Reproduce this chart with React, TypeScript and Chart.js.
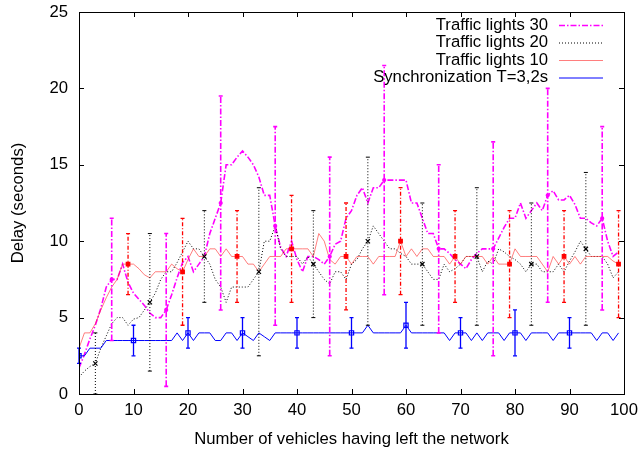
import React, { useEffect, useRef } from 'react';
import { Chart, registerables } from 'chart.js';
Chart.register(...registerables);

// ---- data (index = number of vehicles having left the network) ----
const tl30: number[] = [
  1.7, 2.6, 3.6, 4.5, 5.6, 7.0, 7.5, 7.5, 8.5, 7.3,
  6.6, 6.2, 5.8, 5.3, 5.0, 5.0, 5.5, 6.5, 7.6, 8.6,
  9.0, 8.0, 8.5, 9.0, 10.5, 11.5, 12.5, 15.0, 15.0, 15.5,
  15.9, 15.5, 15.0, 14.2, 13.0, 13.0, 11.0, 9.6, 9.0, 10.0,
  8.8, 8.0, 9.0, 9.0, 8.8, 8.5, 9.0, 9.8, 10.0, 11.5,
  12.0, 13.0, 13.5, 12.5, 13.5, 13.5, 14.0, 14.0, 14.0, 14.0,
  14.0, 12.5, 12.5, 11.5, 10.5, 10.5, 9.5, 9.5, 9.2, 8.8,
  8.5, 8.2, 8.8, 9.2, 9.5, 9.5, 9.5, 10.2, 10.9, 11.5,
  11.5, 12.5, 11.5, 12.0, 12.5, 12.0, 13.0, 13.3, 12.7, 12.7,
  13.0, 12.4, 11.5, 11.5, 11.2, 11.0, 11.5, 10.0, 9.0, 9.3,
];
const tl20: number[] = [
  1.1, 1.5, 1.8, 2.0, 3.0, 3.8, 4.6, 5.0, 5.0, 4.5,
  4.9, 5.0, 5.5, 6.0, 6.6, 7.5, 8.0, 8.0, 8.6, 9.3,
  10.0, 9.5, 9.5, 9.0, 8.5, 7.5, 7.0, 6.0, 7.0, 7.0,
  7.0, 7.0, 7.5, 8.0, 10.0, 10.0, 11.0, 9.5, 9.0, 9.0,
  9.0, 8.5, 9.0, 8.5, 8.0, 7.5, 7.2, 8.0, 8.0, 7.5,
  8.5, 8.8, 9.5, 10.0, 11.0, 10.5, 10.0, 9.5, 9.5, 9.2,
  9.0, 8.5, 8.5, 8.5, 8.0, 7.5, 7.5, 8.5, 8.0, 8.2,
  8.5, 9.0, 9.0, 9.0, 8.0, 8.7, 8.5, 9.5, 9.3, 9.0,
  8.8, 8.5, 8.0, 8.5, 8.5, 8.0, 8.0, 8.0, 8.5, 8.0,
  8.7, 9.3, 10.0, 9.5, 9.0, 9.0, 9.0, 8.5, 7.6, 8.0,
];
const tl10: number[] = [
  3.0, 4.0, 4.0, 4.6, 5.5, 6.3, 7.0, 7.5, 8.5, 8.5,
  8.5, 8.2, 7.8, 7.6, 8.0, 8.0, 8.0, 8.5, 8.2, 8.0,
  8.8, 9.5, 9.0, 9.0, 9.5, 9.5, 9.0, 9.5, 9.0, 9.0,
  9.0, 8.5, 8.5, 8.0, 8.5, 9.0, 9.0, 9.0, 9.5, 9.5,
  9.5, 9.5, 9.5, 9.0, 10.5, 10.0, 8.8, 8.5, 9.0, 9.0,
  8.5, 9.0, 9.0, 9.0, 8.5, 9.0, 9.0, 9.0, 9.0, 10.0,
  9.0, 9.5, 9.0, 9.5, 9.5, 9.0, 9.0, 9.0, 8.5, 9.0,
  8.5, 9.0, 9.0, 9.0, 9.0, 8.5, 9.0, 8.5, 8.5, 8.5,
  9.5, 9.0, 9.0, 9.0, 9.0, 8.5, 8.0, 9.0, 8.5, 9.0,
  8.5, 9.0, 8.5, 9.0, 9.0, 9.0, 9.0, 9.0, 8.7, 8.5,
];
const sync: number[] = [
  2.5, 2.5, 3.0, 3.0, 3.0, 3.5, 3.5, 3.5, 3.5, 3.5,
  3.5, 3.5, 3.5, 3.5, 3.5, 3.5, 3.5, 3.5, 4.0, 3.5,
  4.0, 3.5, 4.0, 4.0, 4.0, 3.5, 3.5, 4.0, 4.0, 3.5,
  4.0, 3.75, 3.5, 4.0, 3.75, 3.5, 4.0, 4.0, 4.0, 4.0,
  4.0, 4.0, 4.0, 4.0, 4.0, 4.0, 4.0, 4.0, 4.0, 4.0,
  4.0, 4.0, 4.0, 4.5, 4.0, 4.0, 4.0, 4.0, 4.0, 4.0,
  4.5, 4.0, 4.0, 4.0, 4.0, 4.0, 4.0, 4.0, 3.5, 4.0,
  4.0, 4.0, 3.5, 4.0, 3.5, 4.0, 4.0, 4.0, 3.5, 4.0,
  4.0, 4.0, 3.5, 4.0, 4.0, 4.0, 4.0, 3.5, 4.0, 4.0,
  4.0, 4.0, 4.0, 4.0, 4.0, 3.5, 4.0, 4.0, 3.5, 4.0,
];

// error bars
const err30X = [6, 16, 26, 36, 46, 56, 66, 76, 86, 96];
const err30Lo = [3.5, 0.5, 5.5, 4.5, 2.5, 6.5, 4.0, 2.5, 6.0, 5.5];
const err30Hi = [11.5, 10.5, 19.5, 17.5, 15.5, 21.5, 15.0, 16.5, 20.0, 17.5];
const err20X = [3, 13, 23, 33, 43, 53, 63, 73, 83, 93];
const err20Lo = [0.0, 1.5, 6.0, 2.5, 5.0, 4.5, 4.5, 4.5, 4.5, 4.5];
const err20Hi = [4.0, 10.5, 12.0, 13.5, 12.0, 15.5, 12.5, 13.5, 12.5, 14.5];
const err10X = [9, 19, 29, 39, 49, 59, 69, 79, 89, 99];
const err10Lo = [6.5, 4.5, 6.0, 6.0, 5.5, 6.5, 6.0, 5.0, 6.0, 5.0];
const err10Hi = [10.5, 11.5, 12.0, 13.0, 12.5, 13.5, 12.0, 12.0, 12.0, 12.0];
const errSyncX = [0, 10, 20, 30, 40, 50, 60, 70, 80, 90];
const errSyncLo = [2.0, 2.5, 3.0, 3.0, 3.0, 3.0, 3.0, 3.0, 2.5, 3.0];
const errSyncHi = [3.0, 4.5, 5.0, 5.0, 5.0, 5.0, 6.0, 5.0, 5.5, 5.0];

const xTicks = [0, 10, 20, 30, 40, 50, 60, 70, 80, 90, 100];
const yTicks = [0, 5, 10, 15, 20, 25];
const seriesNames = ['Traffic lights 30', 'Traffic lights 20', 'Traffic lights 10', 'Synchronization T=3,2s'];
const xTitle = 'Number of vehicles having left the network';
const yTitle = 'Delay (seconds)';

const FONT = '"Liberation Sans", Arial, Helvetica, sans-serif';
const FS = 16.7;

const styles = [
  { line: '#ff00ff', width: 1.6, dash: [6, 2, 1.5, 2], bar: '#ff00ff', barW: 1.6, barDash: [6, 2, 1.5, 2], point: 'circle', pr: 1.5, fill: true },
  { line: '#000000', width: 1, dash: [1, 2], bar: '#000000', barW: 1, barDash: [1, 2], point: 'crossRot', pr: 3, fill: false },
  { line: 'rgba(255,40,40,0.6)', width: 1, dash: [], bar: '#ff0000', barW: 1.3, barDash: [4, 2, 1, 2], point: 'rect', pr: 2.5, fill: true },
  { line: '#0000ff', width: 1, dash: [], bar: '#0000ff', barW: 1.3, barDash: [], point: 'rect', pr: 3, fill: false },
];

const lines = [tl30, tl20, tl10, sync];
const errs = [
  { xs: err30X, lo: err30Lo, hi: err30Hi },
  { xs: err20X, lo: err20Lo, hi: err20Hi },
  { xs: err10X, lo: err10Lo, hi: err10Hi },
  { xs: errSyncX, lo: errSyncLo, hi: errSyncHi },
];

const framePlugin = {
  id: 'frame',
  afterDatasetsDraw(chart: any) {
    const { ctx, scales } = chart;
    const x = scales.x, y = scales.y;
    errs.forEach((e, si) => {
      const st = styles[si];
      ctx.save();
      ctx.strokeStyle = st.bar;
      ctx.lineWidth = st.barW;
      e.xs.forEach((xv: number, k: number) => {
        const px = x.getPixelForValue(xv);
        const lo = y.getPixelForValue(e.lo[k]);
        const hi = y.getPixelForValue(e.hi[k]);
        ctx.setLineDash(st.barDash);
        ctx.beginPath();
        ctx.moveTo(px, lo);
        ctx.lineTo(px, hi);
        ctx.stroke();
        ctx.setLineDash([]);
        ctx.beginPath();
        ctx.moveTo(px - 2, lo); ctx.lineTo(px + 2, lo);
        ctx.moveTo(px - 2, hi); ctx.lineTo(px + 2, hi);
        ctx.stroke();
      });
      ctx.restore();
    });
  },
  afterDraw(chart: any) {
    const { ctx, chartArea: a, scales } = chart;
    const x = scales.x, y = scales.y;
    ctx.save();
    ctx.strokeStyle = '#000';
    ctx.lineWidth = 1;
    ctx.setLineDash([]);
    ctx.strokeRect(Math.round(a.left) + 0.5, Math.round(a.top) + 0.5, Math.round(a.right - a.left), Math.round(a.bottom - a.top));
    ctx.beginPath();
    xTicks.forEach((v) => {
      const px = Math.round(x.getPixelForValue(v)) + 0.5;
      ctx.moveTo(px, a.bottom); ctx.lineTo(px, a.bottom - 5);
      ctx.moveTo(px, a.top); ctx.lineTo(px, a.top + 5);
    });
    yTicks.forEach((v) => {
      const py = Math.round(y.getPixelForValue(v)) + 0.5;
      ctx.moveTo(a.left, py); ctx.lineTo(a.left + 5, py);
      ctx.moveTo(a.right, py); ctx.lineTo(a.right - 5, py);
    });
    ctx.stroke();
    // key
    ctx.font = FS + 'px ' + FONT;
    ctx.fillStyle = '#000';
    ctx.textAlign = 'right';
    ctx.textBaseline = 'middle';
    seriesNames.forEach((name, i) => {
      const ty = 25 + i * 17.5;
      ctx.fillText(name, 548, ty);
      const st = styles[i];
      ctx.strokeStyle = st.line;
      ctx.lineWidth = st.width;
      ctx.setLineDash(st.dash);
      ctx.beginPath();
      ctx.moveTo(559, ty + 0.5);
      ctx.lineTo(603, ty + 0.5);
      ctx.stroke();
    });
    ctx.restore();
  },
};

export default function App() {
  const ref = useRef<HTMLCanvasElement | null>(null);
  useEffect(() => {
    if (!ref.current) return;
    const datasets: any[] = [];
    lines.forEach((arr, si) => {
      const st = styles[si];
      datasets.push({
        label: seriesNames[si],
        data: arr.map((v, i) => ({ x: i, y: v })),
        showLine: true,
        borderColor: st.line,
        borderWidth: st.width,
        borderDash: st.dash,
        pointRadius: 0,
        tension: 0,
        order: 4 - si,
      });
    });
    errs.forEach((e, si) => {
      const st = styles[si];
      datasets.push({
        label: seriesNames[si] + ' mean',
        data: e.xs.map((xv) => ({ x: xv, y: lines[si][xv] })),
        showLine: false,
        pointStyle: st.point,
        pointRadius: st.pr,
        pointBorderColor: st.bar,
        pointBackgroundColor: st.fill ? st.bar : 'rgba(0,0,0,0)',
        pointBorderWidth: 1.2,
        order: 0,
      });
    });
    const tickFont = { family: FONT, size: FS };
    const chart = new Chart(ref.current, {
      type: 'scatter',
      data: { datasets },
      options: {
        animation: false,
        responsive: false,
        maintainAspectRatio: false,
        layout: { padding: { top: 12, right: 17, left: 0, bottom: 0 } },
        plugins: { legend: { display: false }, tooltip: { enabled: false } },
        scales: {
          x: {
            type: 'linear', min: 0, max: 100,
            afterBuildTicks: (s: any) => { s.ticks = xTicks.map((v) => ({ value: v })); },
            grid: { display: false, drawTicks: false },
            border: { display: false },
            ticks: { color: '#000', font: tickFont, padding: 6, maxRotation: 0, autoSkip: false },
            title: { display: true, text: xTitle, color: '#000', font: tickFont, padding: { top: 3, bottom: 0 } },
            afterFit: (s: any) => { s.height = 55; s.paddingLeft = 0; s.paddingRight = 0; },
          },
          y: {
            type: 'linear', min: 0, max: 25,
            afterBuildTicks: (s: any) => { s.ticks = yTicks.map((v) => ({ value: v })); },
            grid: { display: false, drawTicks: false },
            border: { display: false },
            ticks: { color: '#000', font: tickFont, padding: 11, autoSkip: false },
            title: { display: true, text: yTitle, color: '#000', font: tickFont, padding: { top: 8, bottom: 0 } },
            afterFit: (s: any) => { s.width = 79; s.paddingTop = 0; s.paddingBottom = 0; },
          },
        },
      },
      plugins: [framePlugin],
    });
    return () => chart.destroy();
  }, []);
  return (
    <div style={{ position: 'fixed', left: 0, top: 0, width: 641, height: 449, background: '#fff' }}>
      <canvas ref={ref} width={641} height={449} style={{ display: 'block', width: 641, height: 449 }} />
    </div>
  );
}
